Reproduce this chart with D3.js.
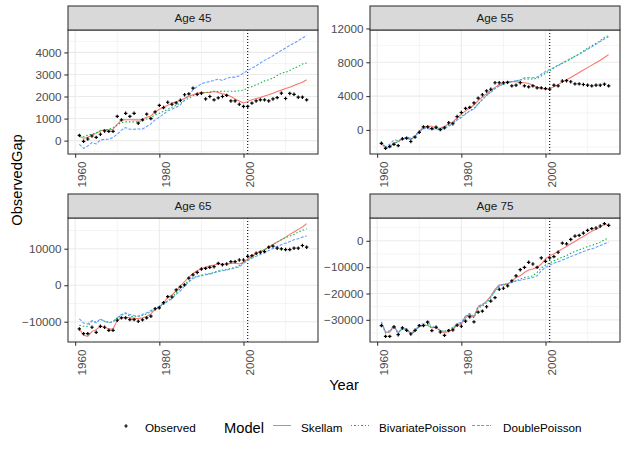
<!DOCTYPE html>
<html>
<head>
<meta charset="utf-8">
<script src="https://cdn.jsdelivr.net/npm/d3@7/dist/d3.min.js"></script>
<style>
  body { margin: 0; background: #fff; }
  svg { display: block; font-family: "Liberation Sans", Arial, sans-serif; }
</style>
</head>
<body>
<div id="chart"></div>
<script>
// years shared by every panel
const years = [1961,1962,1963,1964,1965,1966,1967,1968,1969,1970,
  1971,1972,1973,1974,1975,1976,1977,1978,1979,1980,
  1981,1982,1983,1984,1985,1986,1987,1988,1989,1990,
  1991,1992,1993,1994,1995,1996,1997,1998,1999,2000,
  2001,2002,2003,2004,2005,2006,2007,2008,2009,2010,
  2011,2012,2013,2014,2015];

const panelNames = ["Age 45", "Age 55", "Age 65", "Age 75"];
const modelNames = ["Skellam", "BivariatePoisson", "DoublePoisson"];
const forecastStart = 2001;

// Age 45
const obs45 = [240,-30,75,210,150,290,440,420,420,1100, 940,1240,1100,1240,790,940,1200,1000,1300,1600,
  1500,1740,1650,1710,1830,2080,2120,2380,2100,2150, 1890,2000,1850,1940,2000,2050,1800,1800,1650,1550,
  1550,1700,1800,1850,1850,1800,1890,1950,2150,1910, 2140,2100,1970,1970,1850];
const skel45 = [210,110,150,240,330,450,480,480,515,740, 940,950,950,940,940,970,1060,1120,1300,1420,
  1510,1600,1700,1760,1820,1920,2000,2080,2150,2180, 2180,2180,2230,2180,2120,2080,2000,1890,1800,1710,
  1770,1850,1910,1950,2020,2080,2150,2230,2290,2360, 2420,2500,2580,2650,2760];
const biv45 = [180,180,240,300,360,450,480,515,590,710, 820,850,850,850,850,910,980,1060,1170,1240,
  1330,1420,1510,1600,1700,1820,1920,2030,2100,2150, 2180,2210,2240,2230,2240,2240,2240,2240,2260,2290,
  2380,2450,2530,2610,2710,2760,2830,2950,3060,3100, 3180,3290,3360,3470,3520];
const dbl45 = [-170,-350,-240,-90,-150,30,60,60,150,290, 480,590,515,515,530,530,640,760,940,1060,
  1200,1350,1420,1510,1620,1850,2080,2300,2450,2580, 2640,2680,2730,2790,2730,2830,2880,2880,2940,3060,
  3180,3290,3390,3520,3640,3740,3850,3970,4090,4200, 4320,4420,4530,4650,4760];

// Age 55
const obs55 = [-1580,-2180,-1980,-1700,-1860,-1050,-970,-1370,-850,-280, 360,360,160,320,40,240,850,730,1580,2060,
  2550,2670,3190,3760,4160,4610,4810,5580,5580,5580, 5620,5210,5290,5580,5210,5090,5210,4970,4970,4890,
  4810,5290,5210,5780,5820,5700,5450,5450,5370,5290, 5210,5290,5290,5410,5210];
const skel55 = [-1580,-2180,-1980,-1580,-1370,-1090,-970,-1170,-770,-160, 360,440,440,240,200,440,730,970,1410,1860,
  2260,2590,2950,3470,3880,4280,4690,5010,5370,5620, 5700,5700,5700,5620,5580,5490,5290,5090,4890,4810,
  4890,5090,5370,5650,5930,6210,6500,6790,7080,7370, 7660,7950,8240,8560,8900];
const biv55 = [-1450,-2060,-1780,-1580,-1370,-1090,-850,-1090,-690,-160, 200,320,200,160,120,320,570,770,1250,1580,
  1940,2260,2550,3070,3600,4080,4480,4890,5210,5410, 5580,5700,5780,5900,6020,6020,6020,6100,6380,6710,
  6990,7310,7600,7880,8120,8400,8730,9010,9330,9660, 9940,10260,10550,10950,11150];
const dbl55 = [-1450,-1980,-1700,-1170,-1250,-1050,-970,-970,-690,-280, 160,160,40,120,40,200,440,770,1170,1450,
  1860,2260,2460,3070,3600,4080,4480,4890,5210,5450, 5620,5700,5820,5900,6180,6180,6180,6260,6590,6910,
  7150,7390,7640,7920,8200,8440,8690,8930,9250,9540, 9820,10140,10460,10750,11030];

// Age 65
const obs65 = [-11980,-13270,-13270,-11520,-12900,-11250,-11520,-12350,-12350,-9590,
  -8940,-8940,-9400,-9400,-9870,-9500,-8940,-8480,-6450,-6180,
  -4790,-3130,-3230,-1290,-460,90,1940,2860,3500,4430, 4610,4890,5070,5990,5620,5810,6450,6450,6910,6910,
  7900,8110,8760,9040,9220,10420,10700,10140,9960,9770, 9770,10140,10140,10880,10420];
const skel65 = [-11980,-13740,-14010,-12630,-12170,-11250,-11520,-11980,-11980,-9680,
  -8940,-8760,-8940,-9130,-9130,-8940,-8570,-7840,-6640,-5990,
  -4790,-3410,-2670,-1570,-180,1010,2120,3230,3960,4610, 4890,5350,5530,5810,5810,5810,5990,6090,5810,6270,
  7190,7930,8760,9220,9770,10420,11160,11800,12450,13180, 13920,14570,15300,15950,16870];
const biv65 = [-10970,-11250,-11250,-9870,-10140,-9400,-9870,-10140,-10140,-8940,
  -8210,-7750,-8480,-8670,-8570,-8210,-7840,-7280,-6640,-5990,
  -5260,-4330,-3410,-2030,-920,280,1200,2120,2400,2770, 3040,3230,3500,3960,4150,4330,4610,4890,5350,6270,
  7010,7650,8390,9040,9680,10420,11160,11800,12450,13000, 13460,13920,14570,15030,15490];
const dbl65 = [-9220,-10330,-10600,-9680,-10330,-9220,-9870,-10330,-9870,-8940,
  -8020,-7560,-8020,-8300,-8480,-8020,-7560,-6920,-6360,-5720,
  -5070,-4330,-3690,-2490,-1570,-180,920,1840,2310,2580, 2860,3040,3410,3780,3960,4150,4430,4700,5070,5990,
  6730,7380,7930,8390,8940,9500,10050,10600,11060,11520, 11980,12450,12720,13180,13460];

// Age 75
const obs75 = [-32180,-36270,-36270,-32690,-35630,-33080,-33970,-35370,-33970,-32180,
  -32180,-30900,-34100,-32820,-34610,-35880,-34100,-33840,-32050,-32440,
  -30520,-28860,-30780,-27070,-26690,-25030,-22860,-21580,-18390,-18010,
  -17110,-15200,-13280,-10980,-10090,-8170,-8810,-10090,-6510,-7790,
  -6510,-6000,-4340,-890,-1150,510,1790,2040,2940,3960, 4600,4850,5620,6510,5870];
const skel75 = [-31160,-34730,-34730,-32440,-34990,-33330,-33710,-35370,-34350,-32440,
  -32050,-32050,-33080,-32820,-34350,-34990,-34350,-33710,-31800,-31540,
  -29240,-27970,-28990,-25160,-24390,-22860,-20940,-18390,-16730,-16730,
  -16470,-15200,-13920,-13280,-12000,-11110,-10730,-10090,-8810,-6900,
  -5620,-4980,-4090,-3060,-2170,-1150,-260,770,1660,2680, 3580,4340,5240,6260,5870];
const biv75 = [-30900,-34990,-34350,-32440,-35370,-32820,-33710,-35370,-34350,-32440,
  -32050,-31800,-33080,-32440,-34100,-34350,-33970,-33330,-31800,-31160,
  -28730,-27970,-29240,-25410,-24770,-23500,-21580,-19030,-17110,-16470,
  -16470,-15830,-15200,-14560,-13920,-13660,-13280,-12000,-10340,-9190,
  -8430,-7530,-6900,-6260,-5620,-4720,-4090,-3450,-2810,-2170, -1790,-1150,-510,380,1150];
const dbl75 = [-30780,-34610,-34100,-32050,-34990,-32820,-33460,-34990,-33970,-31800,
  -31540,-30520,-32820,-32440,-33970,-34350,-33710,-32820,-31540,-30900,
  -28600,-27580,-28600,-24770,-24130,-23110,-21330,-19030,-17110,-16470,
  -16220,-15830,-15200,-14940,-14560,-14300,-13920,-13280,-11360,-10090,
  -9190,-8560,-7920,-7280,-6640,-6000,-5360,-4720,-4090,-3450, -3070,-2430,-1790,-1150,-510];

// tick labels
const xTicks = [1960, 1980, 2000];
const yTicks45 = [0, 1000, 2000, 3000, 4000];
const yTicks55 = [0, 4000, 8000, 12000];
const yTicks65 = [-10000, 0, 10000];
const yTicks75 = [-30000, -20000, -10000, 0];

const panels = [
  { name: panelNames[0], obs: obs45, models: [skel45, biv45, dbl45], ticks: yTicks45 },
  { name: panelNames[1], obs: obs55, models: [skel55, biv55, dbl55], ticks: yTicks55 },
  { name: panelNames[2], obs: obs65, models: [skel65, biv65, dbl65], ticks: yTicks65 },
  { name: panelNames[3], obs: obs75, models: [skel75, biv75, dbl75], ticks: yTicks75 }
];

const W = 628, H = 453;
const colX = [68, 370];
const rowY = [6, 194];   // top of strips
const pw = 250, stripH = 24, ph = 124;

const colorList = ["#F8766D", "#00BA38", "#619CFF"];
const dashList = [null, "1.5,2", "3,1.5"];

const svg = d3.select("#chart").append("svg")
  .attr("width", W)
  .attr("height", H);

//same x range on every panel, ggplot style 5% padding
const xExt = d3.extent(years);
const xPad = (xExt[1] - xExt[0]) * 0.05;

const plusPath = "M-1.7,0H1.7M0,-1.7V1.7";

panels.forEach((p, i) => {
  const x0 = colX[i % 2];
  const top = rowY[Math.floor(i / 2)];
  const y0 = top + stripH;

  const x = d3.scaleLinear()
    .domain([xExt[0] - xPad, xExt[1] + xPad])
    .range([x0, x0 + pw]);

  const allVals = p.obs.concat(...p.models);
  const yExt = d3.extent(allVals);
  const yPad = (yExt[1] - yExt[0]) * 0.05;
  const y = d3.scaleLinear()
    .domain([yExt[0] - yPad, yExt[1] + yPad])
    .range([y0 + ph, y0]);

  const g = svg.append("g");

  //panel background
  g.append("rect")
    .attr("x", x0).attr("y", y0)
    .attr("width", pw).attr("height", ph)
    .attr("fill", "white");

  //minor grid
  const step = p.ticks[1] - p.ticks[0];
  const yMinor = p.ticks.map(t => t - step / 2).concat([p.ticks[p.ticks.length - 1] + step / 2])
    .filter(v => v > y.domain()[0] && v < y.domain()[1]);
  const xMinor = [1970, 1990, 2010];

  g.selectAll(".ymin").data(yMinor).enter().append("line")
    .attr("x1", x0).attr("x2", x0 + pw)
    .attr("y1", d => y(d)).attr("y2", d => y(d))
    .attr("stroke", "#EBEBEB").attr("stroke-width", 0.55);
  g.selectAll(".xmin").data(xMinor).enter().append("line")
    .attr("y1", y0).attr("y2", y0 + ph)
    .attr("x1", d => x(d)).attr("x2", d => x(d))
    .attr("stroke", "#EBEBEB").attr("stroke-width", 0.55);

  //major grid
  g.selectAll(".ymaj").data(p.ticks).enter().append("line")
    .attr("x1", x0).attr("x2", x0 + pw)
    .attr("y1", d => y(d)).attr("y2", d => y(d))
    .attr("stroke", "#EBEBEB").attr("stroke-width", 1.07);
  g.selectAll(".xmaj").data(xTicks).enter().append("line")
    .attr("y1", y0).attr("y2", y0 + ph)
    .attr("x1", d => x(d)).attr("x2", d => x(d))
    .attr("stroke", "#EBEBEB").attr("stroke-width", 1.07);

  //forecast start line
  g.append("line")
    .attr("x1", x(forecastStart)).attr("x2", x(forecastStart))
    .attr("y1", y0).attr("y2", y0 + ph)
    .attr("stroke", "black").attr("stroke-width", 1.07)
    .attr("stroke-dasharray", "1,2");

  //model lines
  p.models.forEach((vals, k) => {
    const line = d3.line()
      .x((d, j) => x(years[j]))
      .y(d => y(d));
    g.append("path")
      .datum(vals)
      .attr("d", line)
      .attr("fill", "none")
      .attr("stroke", colorList[k])
      .attr("stroke-width", 1.07)
      .attr("stroke-dasharray", dashList[k]);
  });

  //observed points
  g.selectAll(".pt").data(p.obs).enter().append("path")
    .attr("d", plusPath)
    .attr("transform", (d, j) => "translate(" + x(years[j]) + "," + y(d) + ")")
    .attr("stroke", "black")
    .attr("stroke-width", 1.2);

  //panel border
  g.append("rect")
    .attr("x", x0).attr("y", y0)
    .attr("width", pw).attr("height", ph)
    .attr("fill", "none")
    .attr("stroke", "#333333").attr("stroke-width", 1.07);

  //strip
  g.append("rect")
    .attr("x", x0).attr("y", top)
    .attr("width", pw).attr("height", stripH)
    .attr("fill", "#D9D9D9")
    .attr("stroke", "#333333").attr("stroke-width", 1.07);
  g.append("text")
    .attr("x", x0 + pw / 2).attr("y", top + stripH / 2 + 4.2)
    .attr("text-anchor", "middle")
    .attr("font-size", "11.7px")
    .attr("fill", "#1A1A1A")
    .text(p.name);

  //y axis
  const yAxis = d3.axisLeft(y).tickValues(p.ticks).tickSize(3.67).tickPadding(2.9).tickFormat(d3.format("d"));
  const ya = g.append("g").attr("transform", "translate(" + x0 + ",0)").call(yAxis);
  ya.select(".domain").remove();
  ya.selectAll(".tick line").attr("stroke", "#333333").attr("stroke-width", 1.07);
  ya.selectAll(".tick text")
    .attr("fill", "#4D4D4D")
    .attr("font-size", "11.7px")
    .attr("font-family", "Liberation Sans, Arial, sans-serif");

  //x axis
  const xAxis = d3.axisBottom(x).tickValues(xTicks).tickSize(3.67).tickFormat(d3.format("d"));
  const xa = g.append("g").attr("transform", "translate(0," + (y0 + ph) + ")").call(xAxis);
  xa.select(".domain").remove();
  xa.selectAll(".tick line").attr("stroke", "#333333").attr("stroke-width", 1.07);
  xa.selectAll(".tick text")
    .attr("fill", "#4D4D4D")
    .attr("font-size", "11.7px")
    .attr("font-family", "Liberation Sans, Arial, sans-serif")
    .attr("text-anchor", "end")
    .attr("x", 0).attr("y", 0)
    .attr("dy", "0.87em")
    .attr("transform", "translate(0,7.5) rotate(-90)");
});

//axis titles
svg.append("text")
  .attr("x", 344).attr("y", 390)
  .attr("text-anchor", "middle")
  .attr("font-size", "14.7px")
  .text("Year");

svg.append("text")
  .attr("transform", "translate(21.5,180) rotate(-90)")
  .attr("text-anchor", "middle")
  .attr("font-size", "14.7px")
  .text("ObservedGap");

//legend
const legY = 426;
const leg = svg.append("g");
leg.append("path")
  .attr("d", plusPath)
  .attr("transform", "translate(126," + legY + ")")
  .attr("stroke", "black").attr("stroke-width", 1.2);
leg.append("text")
  .attr("x", 145).attr("y", legY + 5.5)
  .attr("font-size", "11.7px").attr("fill", "#000")
  .text("Observed");
leg.append("text")
  .attr("x", 224).attr("y", legY + 6.5)
  .attr("font-size", "14.7px")
  .text("Model");

const keyX = [272.5, 350.5, 472];
const labX = [301, 379, 503];
modelNames.forEach((name, k) => {
  leg.append("path")
    .attr("d", d3.line()([[keyX[k], legY - 0.5], [keyX[k] + 18.5, legY - 0.5]]))
    .attr("fill", "none")
    .attr("stroke", colorList[k])
    .attr("stroke-width", 1.2)
    .attr("shape-rendering", "crispEdges")
    .attr("stroke-dasharray", dashList[k]);
  leg.append("text")
    .attr("x", labX[k]).attr("y", legY + 5.5)
    .attr("font-size", "11.7px")
    .text(name);
});
</script>
</body>
</html>
